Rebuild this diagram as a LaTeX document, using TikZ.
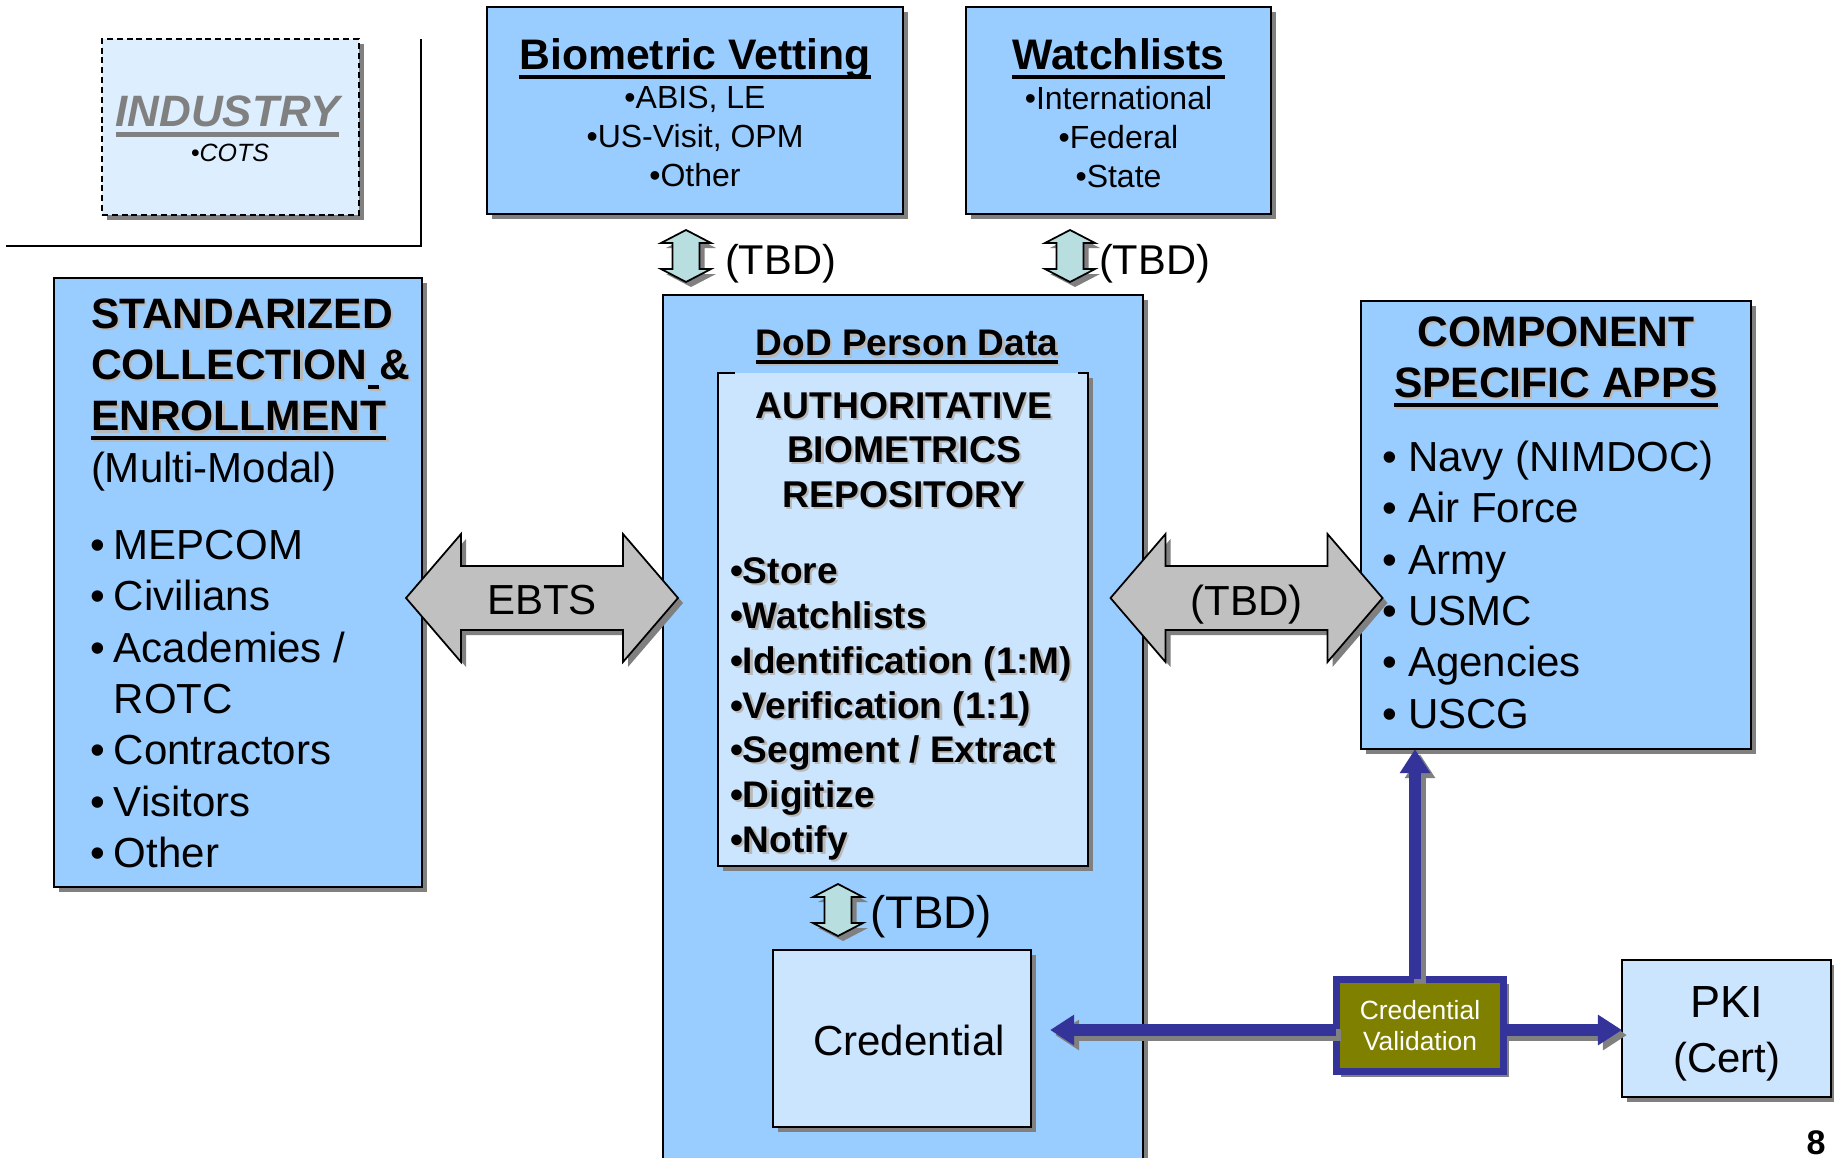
\documentclass[tikz,border=0pt]{standalone}
\usepackage{fontspec}
\setmainfont{Liberation Sans}
\usetikzlibrary{shadows,arrows.meta}

\definecolor{boxblue}{HTML}{99CCFF}
\definecolor{paleblue}{HTML}{CCE5FF}
\definecolor{indblue}{HTML}{DDEEFF}
\definecolor{shadowgray}{HTML}{808080}
\definecolor{arrowgray}{HTML}{C0C0C0}
\definecolor{tbdteal}{HTML}{B8DEE0}
\definecolor{cvblue}{HTML}{333399}
\definecolor{cvolive}{HTML}{808000}

\newcommand{\fsz}[2]{\fontsize{#1}{#2}\selectfont}
\newsavebox{\ulbox}
\newcommand{\hul}[1]{\sbox\ulbox{#1}\rlap{\rule[-0.22em]{\wd\ulbox}{0.1em}}\usebox\ulbox}
\newcommand{\tsh}[1]{\rlap{\raisebox{-0.6pt}{\hspace*{0.6pt}\textcolor{black!28}{#1}}}#1}
\newcommand{\itm}[1][0.57em]{\makebox[#1][l]{\textbullet}}

\begin{document}
\begin{tikzpicture}[x=0.01cm,y=-0.01cm,
  every node/.style={inner sep=0pt,outer sep=0pt},
  sh/.style={drop shadow={shadow xshift=0.05cm,shadow yshift=-0.05cm,opacity=1,fill=shadowgray}},
  box/.style={draw,line width=0.6pt,fill=boxblue,sh},
  palebox/.style={draw,line width=0.6pt,fill=paleblue,sh},
  big/.style={font=\fsz{11.95}{14.6}},
  head/.style={font=\fsz{12.1}{14.6}\bfseries},
  ttl/.style={font=\fsz{12.15}{14}\bfseries},
  small/.style={font=\fsz{9.1}{11},align=center},
  tbd/.style={font=\fsz{11.84}{14}},
  grayarrow/.style={draw,line width=0.5pt,fill=arrowgray,sh},
  tealarrow/.style={draw,line width=0.5pt,fill=tbdteal,sh},
  cvline/.style={line width=0.12cm,-{Triangle[length=0.24cm,width=0.29cm]}},
  hdarrow/.pic={\path[grayarrow] (-136,0) -- (-81,-64) -- (-81,-32) -- (81,-32) -- (81,-64)
    -- (136,0) -- (81,64) -- (81,32) -- (-81,32) -- (-81,64) -- cycle;},
  vdarrow/.pic={\path[tealarrow] (0,-26) -- (25,-13) -- (13.5,-13) -- (13.5,13) -- (25,13)
    -- (0,26) -- (-25,13) -- (-13.5,13) -- (-13.5,-13) -- (-25,-13) -- cycle;}]
\useasboundingbox (0,0) rectangle (1834,1158);

% industry corner
\node[draw,dash pattern=on 1.7pt off 1.1pt,line width=0.6pt,fill=indblue,sh,
  minimum width=2.57cm,minimum height=1.76cm] (ind) at (230.5,127) {};
\node[font=\fsz{12.5}{15}\bfseries\itshape,text=shadowgray,anchor=base] (ind-t) at (227.5,127) {\hul{INDUSTRY}};
\node[font=\fsz{7.1}{9}\itshape,anchor=base] (ind-l) at (230,162) {\textbullet COTS};
\draw[line width=0.6pt] (421,39) -- (421,246) -- (6,246);

% external sources
\node[box,minimum width=4.16cm,minimum height=2.07cm] (vet) at (695,110.5) {};
\node[ttl,anchor=base] (vet-t) at (695,69.5) {\hul{Biometric Vetting}};
\node[small,anchor=north] (vet-l) at (695,86.5) {\textbullet ABIS, LE\\\textbullet US-Visit, OPM\\\textbullet Other};
\node[box,minimum width=3.05cm,minimum height=2.07cm] (watch) at (1118.5,110.5) {};
\node[ttl,anchor=base] (watch-t) at (1118.5,69.5) {\hul{Watchlists}};
\node[small,anchor=north] (watch-l) at (1118.5,86.5) {\textbullet International\\\textbullet Federal\\\textbullet State};
\pic at (686,256) {vdarrow};
\node[tbd,anchor=base west] (tbd-vet) at (725,275) {(TBD)};
\pic at (1070,256) {vdarrow};
\node[tbd,anchor=base west] (tbd-watch) at (1099,275) {(TBD)};

% collection
\node[box,minimum width=3.68cm,minimum height=6.09cm] (coll) at (238,582.5) {};
\node[head,anchor=north west,align=left] (coll-t) at (91,298.5)
  {\tsh{STANDARIZED}\\\tsh{COLLECTION\hul{\ }\&}\\\tsh{\hul{ENROLLMENT}}\\\fsz{11.95}{14.6}\mdseries(Multi-Modal)};
\node[big,anchor=north west,align=left] (coll-l) at (90,530)
  {\itm MEPCOM\\\itm Civilians\\\itm Academies /\\\hspace*{0.57em}ROTC\\\itm Contractors\\\itm Visitors\\\itm Other};

% DoD person data
\node[box,minimum width=4.8cm,minimum height=8.75cm] (dod) at (903,732.5) {};
\node[font=\fsz{10.53}{12.7}\bfseries,anchor=base] (dod-t) at (907,356) {\tsh{\hul{DoD Person Data}}};
\node[fill=paleblue,sh,minimum width=3.7cm,minimum height=4.93cm] (abr) at (903,619.5) {};
\draw[line width=0.6pt] ([xshift=0.17cm]abr.north west) -- (abr.north west) -- (abr.south west)
  -- (abr.south east) -- (abr.north east) -- ([xshift=-0.1cm]abr.north east);
\node[font=\fsz{10.6}{12.65}\bfseries,anchor=north,align=center] (abr-t) at (904,392)
  {\tsh{AUTHORITATIVE}\\\tsh{BIOMETRICS}\\\tsh{REPOSITORY}};
\node[font=\fsz{10.53}{12.72}\bfseries,anchor=north west,align=left] (abr-l) at (730,558)
  {\tsh{\textbullet Store}\\\tsh{\textbullet Watchlists}\\\tsh{\textbullet Identification (1:M)}\\\tsh{\textbullet Verification (1:1)}\\\tsh{\textbullet Segment / Extract}\\\tsh{\textbullet Digitize}\\\tsh{\textbullet Notify}};
\pic at (838,910) {vdarrow};
\node[font=\fsz{13}{15},anchor=base west] (tbd-cred) at (870,928) {(TBD)};
\node[palebox,minimum width=2.58cm,minimum height=1.77cm] (cred) at (902,1038.5) {};
\node[big] (cred-t) at (909,1040) {Credential};

\pic at (542,598) {hdarrow};
\node[big] (ebts) at (542,600) {EBTS};

% component apps
\node[box,minimum width=3.9cm,minimum height=4.48cm] (comp) at (1556,525) {};
\pic at (1246.5,598) {hdarrow};
\node[big,anchor=base] (tbd-comp) at (1246.5,615) {(TBD)};
\node[head,anchor=north,align=center] (comp-t) at (1556,316.5)
  {\tsh{COMPONENT}\\\tsh{\hul{SPECIFIC APPS}}};
\node[big,anchor=north west,align=left] (comp-l) at (1382,441)
  {\itm[0.62em]Navy (NIMDOC)\\\itm[0.62em]Air Force\\\itm[0.62em]Army\\\itm[0.62em]USMC\\\itm[0.62em]Agencies\\\itm[0.62em]USCG};

% validation
\node[draw=cvblue,line width=0.07cm,fill=cvolive,sh,minimum width=1.67cm,minimum height=0.92cm,
  text=white,align=center,font=\fsz{7.5}{9}] (cv) at (1420,1025.5) {Credential\\Validation};
\node[palebox,minimum width=2.09cm,minimum height=1.37cm] (pki) at (1726.5,1028.5) {};
\node[align=center,font=\fsz{12.8}{15.6}] (pki-t) at (1726.5,1034) {PKI\\\fsz{11.9}{15.6}(Cert)};
\foreach \c/\dx in {shadowgray/0.05cm,cvblue/0cm}{
  \begin{scope}[transform canvas={xshift=\dx,yshift=-\dx}]
    \draw[cvline,color=\c,shorten >=0.19cm] ([yshift=-0.045cm]cv.west) -- ([yshift=-0.045cm]cv.west -| cred.east);
    \draw[cvline,color=\c] ([xshift=-0.05cm]cv.north) -- ([xshift=-0.05cm]cv.north |- comp.south);
    \draw[cvline,color=\c] ([yshift=-0.045cm]cv.east) -- ([yshift=-0.045cm]cv.east -| pki.west);
  \end{scope}
}

\node[font=\fsz{9.7}{12}\bfseries,anchor=base] (pgno) at (1816,1154) {8};
\end{tikzpicture}
\end{document}
